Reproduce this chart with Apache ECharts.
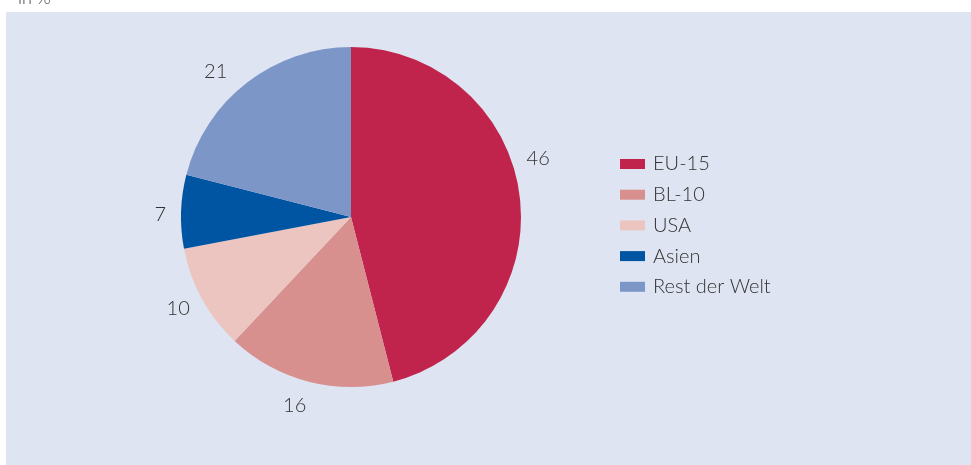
<!DOCTYPE html>
<html>
<head>
<meta charset="utf-8">
<script src="https://cdn.jsdelivr.net/npm/echarts@6/dist/echarts.min.js"></script>
<style>
html,body{margin:0;padding:0;background:#fff;}
#c{width:971px;height:465px;}
</style>
</head>
<body>
<div id="c"></div>
<script>
const categories = ['EU-15', 'BL-10', 'USA', 'Asien', 'Rest der Welt'];
const values = [46, 16, 10, 7, 21];
const colors = ['#c0234b', '#d8908f', '#ecc5c0', '#0055a2', '#7d96c8'];

const chart = echarts.init(document.getElementById('c'));
chart.setOption({
  animation: false,
  graphic: [{
    type: 'rect', left: 6, top: 12, z: -10,
    shape: { width: 965, height: 453 },
    style: { fill: '#dfe4f2' }
  }, {
    type: 'text', left: 18, top: -11,
    style: { text: 'in %', fill: '#3a3a3a', font: '300 18px Lato' }
  }],
  legend: {
    orient: 'vertical',
    left: 615, top: 149,
    itemWidth: 25, itemHeight: 10, itemGap: 10.7,
    icon: 'rect',
    textStyle: { fontFamily: 'Lato', fontWeight: 300, fontSize: 20, color: '#333', padding: [0, 0, 0, 3] },
    data: categories
  },
  series: [{
    type: 'pie',
    center: [351, 217],
    radius: [0, 170],
    startAngle: 90,
    clockwise: true,
    label: {
      show: true, position: 'outside',
      fontFamily: 'Lato', fontWeight: 300, fontSize: 20, color: '#333',
      formatter: '{c}'
    },
    labelLine: { show: false, length: 14, length2: 0 },
    labelLayout: function (p) {
      if (p.dataIndex === 0) return { dx: -12, dy: -35 };
      if (p.dataIndex === 1) return { dx: 6, dy: 10 };
      if (p.dataIndex === 2) return { dx: 5, dy: 3 };
      if (p.dataIndex === 3) return { dx: 4, dy: 3 };
      if (p.dataIndex === 4) return { dx: -6 };
      return {};
    },
    itemStyle: { borderWidth: 0 },
    emphasis: { disabled: true },
    data: categories.map((n, i) => ({ name: n, value: values[i], itemStyle: { color: colors[i] } }))
  }]
});
</script>
</body>
</html>
